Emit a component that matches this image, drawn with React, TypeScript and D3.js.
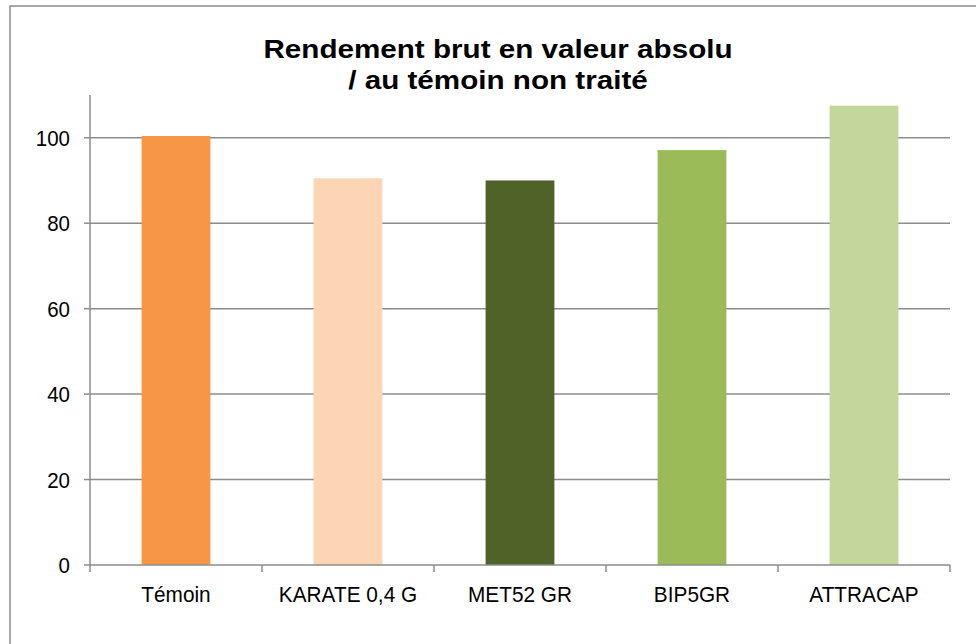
import React, { useEffect, useRef } from 'react';
import * as d3 from 'd3';

const categories = ['Témoin', 'KARATE 0,4 G', 'MET52 GR', 'BIP5GR', 'ATTRACAP'];
const values = [100.4, 90.5, 90.0, 97.1, 107.5];
const barColors = ['#F79646', '#FCD5B5', '#4F6228', '#9BBB59', '#C3D69B'];
const yTicks = [0, 20, 40, 60, 80, 100];
const titleLines = ['Rendement brut en valeur absolu', '/ au témoin non traité'];

const FONT = '"Liberation Sans", Arial, sans-serif';

export default function App() {
  const chartRef = useRef<SVGSVGElement | null>(null);

  useEffect(() => {
    const W = 976;
    const H = 644;
    const margin = { top: 95, right: 26, bottom: 79, left: 90 };
    const width = W - margin.left - margin.right;
    const height = H - margin.top - margin.bottom;

    const svg = d3.select(chartRef.current);
    svg.selectAll('*').remove();
    svg.attr('width', W).attr('height', H);

    svg.append('rect').attr('width', W).attr('height', H).attr('fill', '#fff');

    // chart frame (right/bottom edges fall outside the picture)
    svg.append('rect')
      .attr('x', 10).attr('y', 6)
      .attr('width', W + 20).attr('height', H + 20)
      .attr('fill', 'none')
      .attr('stroke', '#8c8c8c')
      .attr('stroke-width', 1.5);

    svg.selectAll('.title')
      .data(titleLines)
      .enter().append('text')
      .attr('text-anchor', 'middle')
      .attr('transform', (d, i) => 'translate(498,' + (58 + i * 30.5) + ') scale(1.14,1.02)')
      .style('font-family', FONT)
      .style('font-weight', 'bold')
      .style('font-size', '26px')
      .text(d => d);

    const g = svg.append('g')
      .attr('transform', 'translate(' + margin.left + ',' + margin.top + ')');

    const xScale = d3.scaleBand()
      .domain(categories)
      .range([0, width])
      .paddingInner(0.6)
      .paddingOuter(0.3);

    const yScale = d3.scaleLinear()
      .domain([0, 110])
      .range([height, 0]);

    // gridlines
    g.selectAll('.grid')
      .data(yTicks.filter(t => t > 0))
      .enter().append('line')
      .attr('x1', 0).attr('x2', width)
      .attr('y1', d => yScale(d)).attr('y2', d => yScale(d))
      .attr('stroke', '#8c8c8c')
      .attr('stroke-width', 1.5);

    g.selectAll('.bar')
      .data(values)
      .enter().append('rect')
      .attr('x', (d, i) => xScale(categories[i]) as number)
      .attr('y', d => yScale(d))
      .attr('width', xScale.bandwidth())
      .attr('height', d => height - yScale(d))
      .attr('fill', (d, i) => barColors[i]);

    // y axis
    const yAxis = g.append('g');
    yAxis.append('line')
      .attr('y1', 0).attr('y2', height)
      .attr('stroke', '#8c8c8c').attr('stroke-width', 1.5);
    yAxis.selectAll('.ytick')
      .data(yTicks)
      .enter().append('line')
      .attr('x1', -6).attr('x2', 0)
      .attr('y1', d => yScale(d)).attr('y2', d => yScale(d))
      .attr('stroke', '#8c8c8c').attr('stroke-width', 1.5);
    yAxis.selectAll('.ylabel')
      .data(yTicks)
      .enter().append('text')
      .attr('text-anchor', 'end')
      .attr('transform', d => 'translate(-20,' + (yScale(d) + 8) + ') scale(1,1.1)')
      .style('font-family', FONT)
      .style('font-size', '20.5px')
      .attr('fill', '#000')
      .text(d => d);

    // x axis with ticks between categories
    const step = width / categories.length;
    const xAxisG = g.append('g').attr('transform', 'translate(0,' + height + ')');
    xAxisG.append('line')
      .attr('x1', 0).attr('x2', width)
      .attr('stroke', '#8c8c8c').attr('stroke-width', 1.5);
    xAxisG.selectAll('.xtick')
      .data(d3.range(categories.length + 1))
      .enter().append('line')
      .attr('x1', d => d * step).attr('x2', d => d * step)
      .attr('y1', 0).attr('y2', 7)
      .attr('stroke', '#8c8c8c').attr('stroke-width', 1.5);
    xAxisG.selectAll('.xlabel')
      .data(categories)
      .enter().append('text')
      .attr('text-anchor', 'middle')
      .attr('transform', d => 'translate(' + ((xScale(d) as number) + xScale.bandwidth() / 2) + ',36.5) scale(1,1.1)')
      .style('font-family', FONT)
      .style('font-size', '20.8px')
      .attr('fill', '#000')
      .text(d => d);
  }, []);

  return (
    <svg ref={chartRef} style={{ position: 'absolute', left: 0, top: 0 }} />
  );
}
